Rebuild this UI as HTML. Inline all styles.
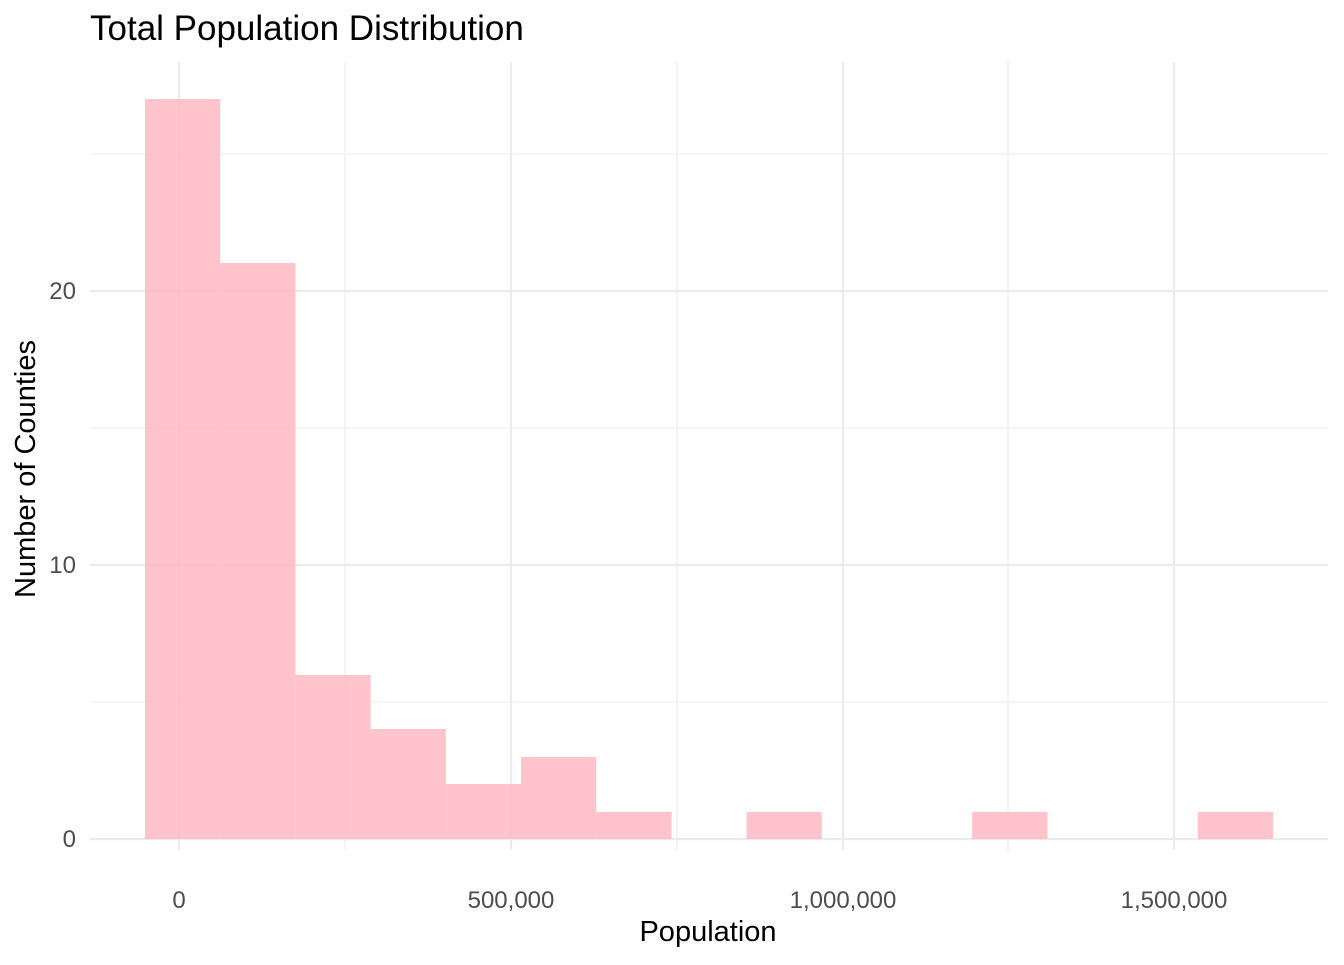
<!DOCTYPE html>
<html><head><meta charset="utf-8"><style>html,body{margin:0;padding:0;background:#fff}</style></head>
<body>
<svg width="1344" height="960" xmlns="http://www.w3.org/2000/svg" font-family="'Liberation Sans', Arial, sans-serif">
<rect width="1344" height="960" fill="#fff"/>
<g stroke="#ebebeb">
<g stroke-width="1.1">
<line x1="90" x2="1328" y1="702" y2="702"/><line x1="90" x2="1328" y1="428" y2="428"/><line x1="90" x2="1328" y1="154" y2="154"/>
<line x1="345" x2="345" y1="62" y2="850"/><line x1="677" x2="677" y1="62" y2="850"/><line x1="1008" x2="1008" y1="62" y2="850"/>
</g>
<g stroke-width="2.2">
<line x1="90" x2="1328" y1="839" y2="839"/><line x1="90" x2="1328" y1="565" y2="565"/><line x1="90" x2="1328" y1="291" y2="291"/>
<line x1="179" x2="179" y1="62" y2="850"/><line x1="511" x2="511" y1="62" y2="850"/><line x1="843" x2="843" y1="62" y2="850"/><line x1="1174" x2="1174" y1="62" y2="850"/>
</g>
</g>
<g fill="#FFB6C1" fill-opacity="0.82">
<rect x="145" y="99" width="75.2" height="740"/>
<rect x="220.2" y="263" width="75.2" height="576"/>
<rect x="295.4" y="675" width="75.2" height="164"/>
<rect x="370.6" y="729" width="75.2" height="110"/>
<rect x="445.8" y="784" width="75.2" height="55"/>
<rect x="521" y="757" width="75.2" height="82"/>
<rect x="596.2" y="812" width="75.2" height="27"/>
<rect x="746.6" y="812" width="75.2" height="27"/>
<rect x="972.2" y="812" width="75.2" height="27"/>
<rect x="1197.8" y="812" width="75.2" height="27"/>
</g>
<g fill="#4d4d4d" font-size="24">
<text x="76" y="847" text-anchor="end">0</text>
<text x="76" y="573" text-anchor="end">10</text>
<text x="76" y="299" text-anchor="end">20</text>
<text x="179" y="908" text-anchor="middle">0</text>
<text x="511" y="908" text-anchor="middle">500,000</text>
<text x="843" y="908" text-anchor="middle">1,000,000</text>
<text x="1174" y="908" text-anchor="middle">1,500,000</text>
</g>
<text x="708" y="941" text-anchor="middle" font-size="29" fill="#000">Population</text>
<text transform="translate(35,469) rotate(-90)" text-anchor="middle" font-size="29" fill="#000">Number of Counties</text>
<text x="90" y="40" font-size="35" fill="#000">Total Population Distribution</text>
</svg>
</body></html>
